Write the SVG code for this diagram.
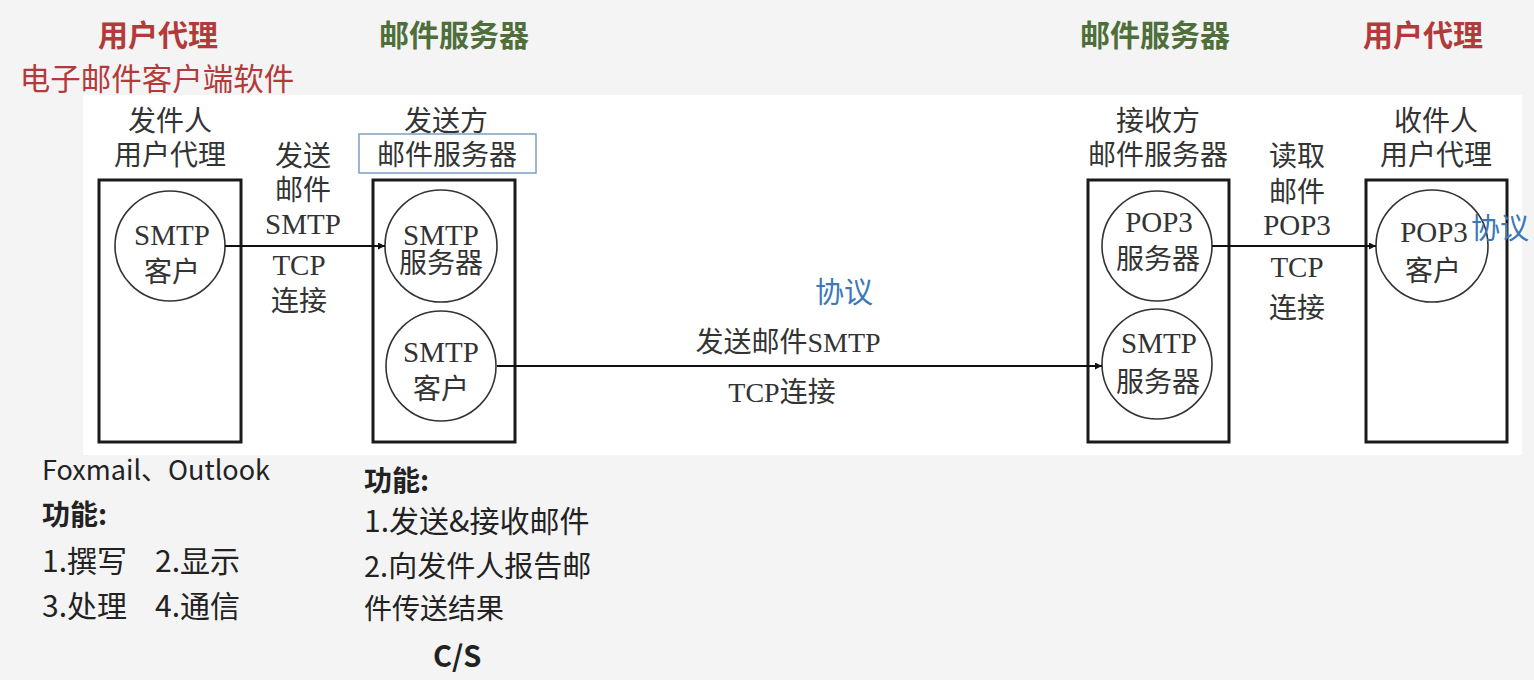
<svg xmlns="http://www.w3.org/2000/svg" width="1534" height="680" viewBox="0 0 1534 680">
<defs>
<marker id="arr" viewBox="0 0 10 10" refX="10" refY="5" markerWidth="8" markerHeight="7" markerUnits="userSpaceOnUse" orient="auto">
<path d="M0,0 L10,5 L0,10 z" fill="#111"/>
</marker>
<style>
.box{fill:none;stroke:#1a1a1a;stroke-width:3}
.cir{fill:none;stroke:#333;stroke-width:1.6}
.t{font-family:"Liberation Serif","Noto Sans CJK SC",serif;font-size:28px;fill:#333;text-anchor:middle}
.l{font-size:29px}
.hr{font-family:"Noto Sans CJK SC",sans-serif;font-size:30px;fill:#b23a3a;font-weight:bold;text-anchor:middle}
.hg{font-family:"Noto Sans CJK SC",sans-serif;font-size:30px;fill:#4e6e3a;font-weight:bold;text-anchor:middle}
.blue{font-family:"Noto Sans CJK SC",sans-serif;font-size:29px;fill:#3c78b8}
.b{font-family:"Noto Sans CJK SC",sans-serif;font-size:30px;fill:#222}
.conn{stroke:#111;stroke-width:2;fill:none;marker-end:url(#arr)}
</style>
</defs>
<rect x="0" y="0" width="1534" height="680" fill="#f4f4f4"/>
<rect x="83" y="95" width="1439" height="360" fill="#ffffff"/>

<g id="headers">
<text class="hr" x="158" y="46">用户代理</text>
<text class="hr" x="157" y="90" style="font-weight:normal;font-size:30.5px">电子邮件客户端软件</text>
<text class="hg" x="454" y="46">邮件服务器</text>
<text class="hg" x="1155" y="46">邮件服务器</text>
<text class="hr" x="1423" y="46">用户代理</text>
</g>

<g id="sender-ua">
<text class="t" x="170" y="131">发件人</text>
<text class="t" x="170" y="165">用户代理</text>
<rect class="box" x="99" y="180" width="142" height="262"/>
<circle class="cir" cx="170" cy="246" r="55"/>
<text class="t l" x="172" y="245">SMTP</text>
<text class="t" x="172" y="282">客户</text>
</g>

<g id="sender-server">
<text class="t" x="446" y="131">发送方</text>
<rect x="359" y="134" width="177" height="39" fill="none" stroke="#7f9fbf" stroke-width="1.5"/>
<text class="t" x="447" y="165">邮件服务器</text>
<rect class="box" x="373" y="180" width="142" height="262"/>
<circle class="cir" cx="441" cy="246" r="56"/>
<text class="t l" x="441" y="245">SMTP</text>
<text class="t" x="441" y="273">服务器</text>
<circle class="cir" cx="441" cy="366" r="55"/>
<text class="t l" x="441" y="362">SMTP</text>
<text class="t" x="441" y="399">客户</text>
</g>

<g id="receiver-server">
<text class="t" x="1158" y="131">接收方</text>
<text class="t" x="1158" y="165">邮件服务器</text>
<rect class="box" x="1088" y="180" width="141" height="262"/>
<circle class="cir" cx="1157" cy="246" r="55"/>
<text class="t l" x="1159" y="232">POP3</text>
<text class="t" x="1158" y="269">服务器</text>
<circle class="cir" cx="1157" cy="364" r="55"/>
<text class="t l" x="1159" y="353">SMTP</text>
<text class="t" x="1158" y="392">服务器</text>
</g>

<g id="receiver-ua">
<text class="t" x="1436" y="131">收件人</text>
<text class="t" x="1436" y="165">用户代理</text>
<rect class="box" x="1366" y="180" width="141" height="262"/>
<circle class="cir" cx="1432" cy="246" r="56"/>
<text class="t l" x="1434" y="242">POP3</text>
<text class="t" x="1433" y="281">客户</text>
</g>

<g id="connectors">
<line class="conn" x1="225" y1="246" x2="385" y2="246"/>
<line class="conn" x1="497" y1="366" x2="1102" y2="366"/>
<line class="conn" x1="1212" y1="246" x2="1376" y2="246"/>
</g>

<g id="labels">
<text class="t" x="303" y="166">发送</text>
<text class="t" x="303" y="200">邮件</text>
<text class="t l" x="303" y="234">SMTP</text>
<text class="t l" x="299" y="275">TCP</text>
<text class="t" x="299" y="311">连接</text>
<text class="t" x="1297" y="166">读取</text>
<text class="t" x="1297" y="202">邮件</text>
<text class="t l" x="1297" y="235">POP3</text>
<text class="t l" x="1297" y="277">TCP</text>
<text class="t" x="1297" y="318">连接</text>
<text class="t" x="788" y="352">发送邮件SMTP</text>
<text class="t" x="782" y="402">TCP连接</text>
<text class="blue" x="815" y="303">协议</text>
<text class="blue" x="1471" y="239">协议</text>
</g>

<g id="notes">
<text class="b" x="42" y="480" style="font-size:27px">Foxmail、Outlook</text>
<text class="b" x="42" y="525" style="font-weight:bold;font-size:28px">功能:</text>
<text class="b" x="42" y="572">1.撰写</text>
<text class="b" x="155" y="572">2.显示</text>
<text class="b" x="42" y="617">3.处理</text>
<text class="b" x="155" y="617">4.通信</text>
<text class="b" x="364" y="491" style="font-weight:bold;font-size:28px">功能:</text>
<text class="b" x="364" y="532">1.发送&amp;接收邮件</text>
<text class="b" x="364" y="577" style="font-size:29px">2.向发件人报告邮</text>
<text class="b" x="364" y="619" style="font-size:28px">件传送结果</text>
<text class="b" x="433" y="667" style="font-weight:bold;font-size:29px">C/S</text>
</g>
</svg>
